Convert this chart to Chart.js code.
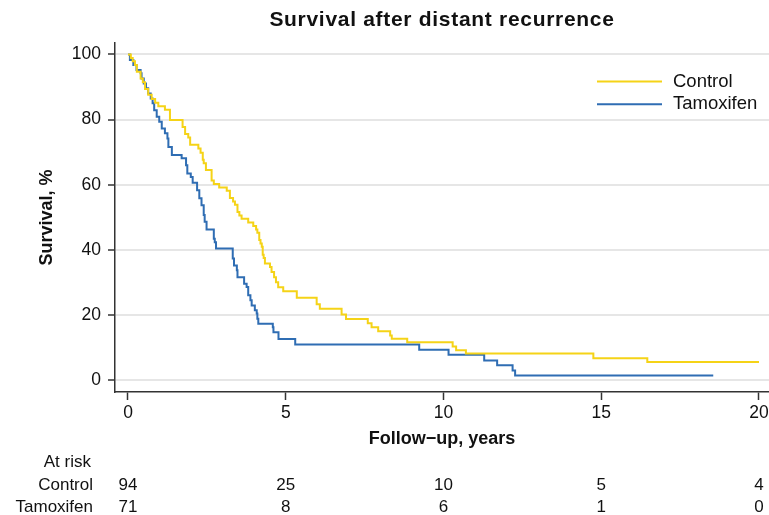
<!DOCTYPE html>
<html>
<head>
<meta charset="utf-8">
<title>Survival after distant recurrence</title>
<script src="https://cdn.jsdelivr.net/npm/chart.js@4/dist/chart.umd.min.js"></script>
<style>
  html, body { margin: 0; padding: 0; background: #fff; }
  #km { display: block; }
</style>
</head>
<body>
<canvas id="km" width="769" height="515"></canvas>
<script>
// Kaplan-Meier step points: time of each drop (years) and survival (%) after it
const controlTimes = [0, 0.09, 0.15, 0.22, 0.28, 0.40, 0.47, 0.54, 0.64, 0.75, 0.86, 0.96, 1.17, 1.33,
  1.73, 1.81, 1.91, 1.97, 2.23, 2.30, 2.37, 2.40, 2.47, 2.65, 2.72, 2.89, 3.13, 3.23, 3.33, 3.39,
  3.47, 3.53, 3.60, 3.81, 3.97, 4.06, 4.10, 4.16, 4.20, 4.24, 4.27, 4.30, 4.34, 4.50, 4.55, 4.63,
  4.69, 4.76, 4.92, 5.35, 5.98, 6.08, 6.77, 6.91, 7.60, 7.72, 7.93, 8.31, 8.36, 8.85, 10.29, 10.40,
  10.71, 14.75, 16.46, 20.0];
const controlSurv = [100, 98.9, 97.9, 96.8, 94.7, 92.6, 91.5, 89.4, 87.6, 86.3, 85.2, 84.1, 83.0, 79.9,
  77.7, 75.6, 74.5, 72.3, 71.1, 69.8, 67.7, 66.6, 64.5, 61.3, 60.2, 59.1, 58.1, 55.9, 54.8, 53.8,
  51.6, 50.5, 49.5, 48.4, 47.3, 46.2, 45.2, 43.0, 41.9, 40.9, 38.5, 37.5, 35.8, 34.7, 33.2, 31.6,
  30.0, 28.5, 27.3, 25.3, 23.3, 21.9, 20.1, 18.7, 17.4, 16.2, 15.0, 13.7, 12.7, 11.6, 10.3, 9.1,
  8.1, 6.7, 5.5, 5.5];

const tamoxTimes = [0, 0.06, 0.17, 0.27, 0.40, 0.43, 0.50, 0.57, 0.64, 0.72, 0.78, 0.83, 0.91, 0.99,
  1.07, 1.17, 1.25, 1.28, 1.39, 1.70, 1.84, 1.88, 1.99, 2.05, 2.19, 2.26, 2.33, 2.40, 2.43, 2.49,
  2.72, 2.75, 2.79, 3.32, 3.36, 3.45, 3.47, 3.68, 3.76, 3.81, 3.88, 3.92, 4.02, 4.08, 4.10, 4.13,
  4.59, 4.61, 4.77, 5.30, 9.23, 10.16, 11.29, 11.70, 12.19, 12.27, 18.55];
const tamoxSurv = [100, 98.3, 96.8, 95.2, 94.2, 92.6, 91.1, 89.6, 88.0, 86.5, 85.0, 82.9, 80.9, 79.3,
  77.3, 75.8, 74.2, 71.6, 69.1, 68.1, 66.0, 63.4, 62.4, 60.6, 58.3, 55.8, 53.7, 50.7, 48.6, 46.2,
  43.4, 42.3, 40.4, 37.3, 35.2, 33.7, 31.6, 29.6, 28.6, 26.0, 24.5, 22.9, 21.4, 20.4, 18.8, 17.3,
  16.2, 14.7, 12.6, 10.9, 9.3, 7.75, 6.0, 4.5, 2.9, 1.4, 1.4];

const xTicks = [0, 5, 10, 15, 20];
const yTicks = [0, 20, 40, 60, 80, 100];

// numbers at risk under each x tick
const riskGroups = ['Control', 'Tamoxifen'];
const riskControl = [94, 25, 10, 5, 4];
const riskTamox = [71, 8, 6, 1, 0];

const FONT = "'Liberation Sans', Arial, Helvetica, sans-serif";
const INK = '#111';

function toPoints(times, surv) {
  return times.map((t, i) => ({ x: t, y: surv[i] }));
}

// title, axis titles, in-plot legend and the at-risk table
const annotations = {
  id: 'annotations',
  afterDraw(chart) {
    const ctx = chart.ctx;
    const area = chart.chartArea;
    const xs = chart.scales.x;
    const midX = (area.left + area.right) / 2;
    ctx.save();
    ctx.fillStyle = INK;
    ctx.textBaseline = 'middle';

    ctx.font = 'bold 21px ' + FONT;
    ctx.textAlign = 'center';
    ctx.letterSpacing = '0.7px';
    ctx.fillText('Survival after distant recurrence', midX, 20);
    ctx.letterSpacing = '0px';

    ctx.font = 'bold 18px ' + FONT;
    ctx.fillText('Follow\u2212up, years', midX, 439);
    ctx.save();
    ctx.translate(47, (area.top + area.bottom) / 2);
    ctx.rotate(-Math.PI / 2);
    ctx.fillText('Survival, %', 0, 0);
    ctx.restore();

    // legend
    ctx.font = '18.5px ' + FONT;
    ctx.textAlign = 'left';
    chart.data.datasets.forEach((ds, i) => {
      const y = 81.5 + i * 22.7;
      ctx.strokeStyle = ds.borderColor;
      ctx.lineWidth = 2;
      ctx.beginPath();
      ctx.moveTo(597, y);
      ctx.lineTo(662, y);
      ctx.stroke();
      ctx.fillText(ds.label, 673, y);
    });

    // at-risk table
    ctx.font = '17px ' + FONT;
    ctx.textAlign = 'right';
    ctx.fillText('At risk', 91, 462);
    const rows = [riskControl, riskTamox];
    rows.forEach((row, r) => {
      const y = 485 + r * 22.5;
      ctx.textAlign = 'right';
      ctx.fillText(riskGroups[r], 93, y);
      ctx.textAlign = 'center';
      row.forEach((n, i) => {
        ctx.fillText(String(n), xs.getPixelForValue(xTicks[i]), y);
      });
    });
    ctx.restore();
  }
};

new Chart(document.getElementById('km'), {
  type: 'line',
  data: {
    datasets: [{
      label: 'Control',
      data: toPoints(controlTimes, controlSurv),
      borderColor: '#f5d317',
      borderWidth: 2,
      stepped: true,
      pointRadius: 0,
      fill: false
    }, {
      label: 'Tamoxifen',
      data: toPoints(tamoxTimes, tamoxSurv),
      borderColor: '#2f6db3',
      borderWidth: 2,
      stepped: true,
      pointRadius: 0,
      fill: false
    }]
  },
  options: {
    responsive: false,
    animation: false,
    events: [],
    layout: { autoPadding: false, padding: { top: 43, left: 0, right: 0, bottom: 0 } },
    plugins: {
      legend: { display: false },
      tooltip: { enabled: false },
      title: { display: false }
    },
    scales: {
      x: {
        type: 'linear',
        min: -0.412,
        max: 20.317,
        afterBuildTicks(scale) { scale.ticks = xTicks.map(v => ({ value: v })); },
        afterFit(scale) {
          scale.height = 123;
          scale.paddingLeft = 0;
          scale.paddingRight = 0;
        },
        grid: { drawOnChartArea: false, drawTicks: true, tickLength: 8, tickColor: '#333', tickWidth: 1.5 },
        border: { display: true, color: '#333', width: 1.5 },
        ticks: { color: INK, font: { family: FONT, size: 17.5 }, padding: 3, maxRotation: 0 }
      },
      y: {
        type: 'linear',
        min: -3.69,
        max: 103.53,
        afterBuildTicks(scale) { scale.ticks = yTicks.map(v => ({ value: v })); },
        afterFit(scale) {
          scale.width = 115;
          scale.paddingTop = 0;
          scale.paddingBottom = 0;
        },
        grid: { color: '#e6e6e6', lineWidth: 2, drawTicks: true, tickLength: 7, tickColor: '#333', tickWidth: 1.5 },
        border: { display: true, color: '#333', width: 1.5 },
        ticks: { color: INK, font: { family: FONT, size: 17.5 }, padding: 7 }
      }
    }
  },
  plugins: [annotations]
});
</script>
</body>
</html>
